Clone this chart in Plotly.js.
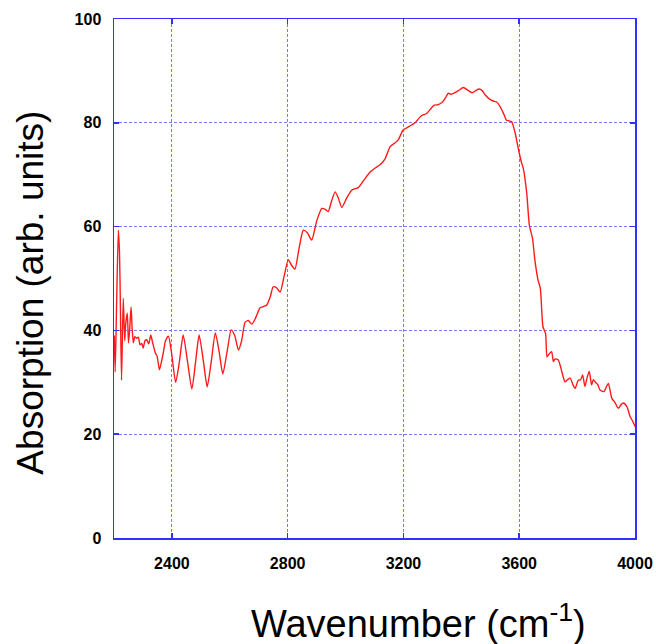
<!DOCTYPE html>
<html>
<head>
<meta charset="utf-8">
<script src="https://cdn.plot.ly/plotly-3.0.1.min.js"></script>
<style>html,body{margin:0;padding:0;background:#fff;}#chart{width:656px;height:644px;}</style>
</head>
<body>
<div id="chart"></div>
<script>
const wavenumber = [2201,2204,2209,2215,2219,2222,2226,2232,2237,2240,2246,2250,2254,2259,2263,2267,2272,2278,2284,2290,2296,2301,2307,2313,2320,2327,2334,2342,2349,2357,2364,2370,2378,2388,2399,2413,2426,2439,2454,2469,2482,2494,2509,2522,2536,2550,2563,2576,2591,2605,2617,2630,2641,2653,2664,2676,2690,2704,2716,2728,2740,2750,2762,2774,2788,2802,2814,2825,2840,2854,2868,2883,2900,2918,2930,2940,2952,2964,2975,2987,3004,3021,3033,3044,3064,3085,3100,3119,3136,3154,3168,3182,3199,3220,3240,3261,3280,3293,3306,3320,3335,3345,3355,3365,3375,3390,3407,3422,3437,3450,3461,3472,3482,3499,3510,3522,3535,3548,3556,3563,3574,3586,3597,3607,3614,3626,3635,3646,3654,3665,3673,3682,3691,3696,3704,3712,3718,3724,3735,3747,3758,3767,3776,3786,3793,3804,3812,3819,3827,3835,3842,3850,3856,3862,3872,3879,3893,3900,3908,3920,3930,3942,3952,3960,3972,3983,3992,4000];
const absorption = [39,32,45,59.3,55,45,30.4,46.2,38,41,43.3,37.6,40,44.5,40,37.6,38.8,38.5,38.7,37.2,37.5,36.6,38,38.2,37.4,39.1,37.5,35.8,35,32.4,34,35.6,38,38.9,35.6,30,34,39.1,34,28.7,34,39.1,34,29.1,34,39.5,36,31.6,36,40.1,39,36.2,38,41.6,41.9,41.2,42.5,44.3,44.6,44.9,46.5,48.4,48.2,47.4,50.5,53.6,52.5,51.8,56,59.3,58.8,57.4,61,63.5,63.3,62.9,65,66.7,65.5,63.7,65.5,67,67.3,67.5,69,70.5,71.2,71.9,73,75.4,76,76.7,78.6,79.3,80,81.3,81.8,82.6,83.4,83.5,84,84.8,85.7,85.5,85.7,86.2,86.8,86.3,85.8,86.2,86.5,86.2,85.4,84.5,84.2,84,83,81.5,80.5,80.4,80.2,78,75,72.5,71.2,66.4,60.3,57.7,53.6,49.7,48.1,40.7,39.4,34.9,35.5,35.9,34,34.5,34.3,32.1,30.1,30.5,30.8,29.5,28.8,30.4,30.5,31.4,29.2,31,32.1,29.5,30.5,30.1,29.5,28.5,28.2,29,29.8,26.9,26.2,25,25.7,26,25.3,23.4,22.5,21.5];
const xTicks = [2400,2800,3200,3600,4000];
const yTicks = [0,20,40,60,80,100];

const blue = '#3030ff';
const gridBlue = '#7878ff';
const tickFont = {family: '"Liberation Sans", Arial, sans-serif', size: 16, color: '#000', weight: 'bold'};
const titleFont = {family: '"Liberation Sans", Arial, sans-serif', size: 37, color: '#000'};
const xTitleFont = {family: '"Liberation Sans", Arial, sans-serif', size: 38, color: '#000'};

Plotly.newPlot('chart', [{
  x: wavenumber, y: absorption, type: 'scatter', mode: 'lines',
  line: {color: '#ff1a1a', width: 1.4, shape: 'spline', smoothing: 0.6},
  hoverinfo: 'skip'
}], {
  width: 656, height: 644,
  margin: {l: 114, r: 21, t: 19, b: 106},
  paper_bgcolor: '#fff', plot_bgcolor: '#fff',
  showlegend: false,
  xaxis: {
    range: [2200, 4000], tickvals: xTicks, ticktext: xTicks.map(String),
    showgrid: true, gridcolor: gridBlue, griddash: '3px,2px', gridwidth: 1,
    showline: true, linecolor: blue, linewidth: 1.5, mirror: 'ticks',
    ticks: 'inside', ticklen: 5, tickcolor: blue, tickwidth: 1.5,
    tickfont: tickFont, ticklabelstandoff: 10, zeroline: false
  },
  yaxis: {
    range: [0, 100], tickvals: yTicks, ticktext: yTicks.map(String),
    showgrid: true, gridcolor: gridBlue, griddash: '3px,2px', gridwidth: 1,
    showline: true, linecolor: blue, linewidth: 1.5, mirror: 'ticks',
    ticks: 'inside', ticklen: 5, tickcolor: blue, tickwidth: 1.5,
    tickfont: tickFont, ticklabelstandoff: 8, zeroline: false
  },
  annotations: [
    {text: 'Wavenumber (cm<sup>-1</sup>)', xref: 'paper', yref: 'paper', x: 0.585, y: -0.159,
     xanchor: 'center', yanchor: 'middle', showarrow: false, font: xTitleFont},
    {text: 'Absorption (arb. units)', xref: 'paper', yref: 'paper', x: -0.162, y: 0.472,
     xanchor: 'center', yanchor: 'middle', textangle: -90, showarrow: false, font: titleFont}
  ]
}, {staticPlot: true, displayModeBar: false});
</script>
</body>
</html>
